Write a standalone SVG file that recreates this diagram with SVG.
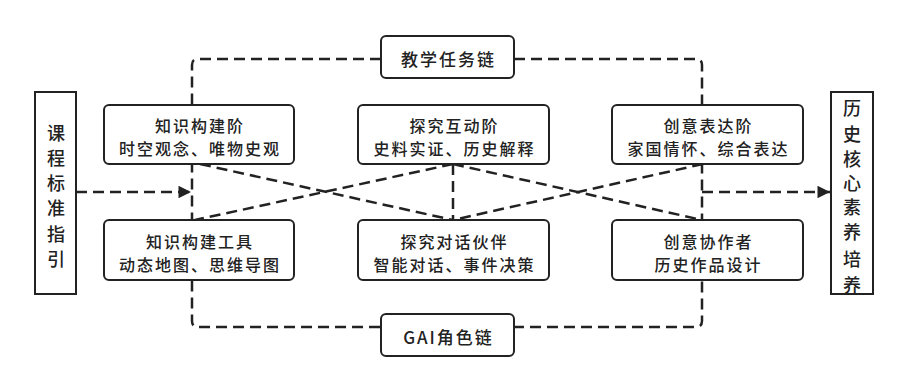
<svg xmlns="http://www.w3.org/2000/svg" width="907" height="392" viewBox="0 0 907 392">
<defs>
<marker id="arr" viewBox="0 0 10 10" refX="10" refY="5" markerWidth="7" markerHeight="5" markerUnits="strokeWidth" orient="auto">
<path d="M0,0 L10,5 L0,10 Z" fill="#222"/>
</marker>
<style>
.box{fill:#fff;stroke:#222;stroke-width:2}
.dash{fill:none;stroke:#222;stroke-width:2.5;stroke-dasharray:11 6}
.t{font-family:"Noto Sans CJK SC","Noto Sans",sans-serif;font-size:16px;font-weight:500;letter-spacing:2px;fill:#222;text-anchor:middle;dominant-baseline:central}
.tl{font-family:"Noto Sans CJK SC","Noto Sans",sans-serif;font-size:17px;font-weight:500;letter-spacing:2px;fill:#222;text-anchor:middle;dominant-baseline:central}
.tv{font-family:"Noto Sans CJK SC","Noto Sans",sans-serif;font-size:18px;font-weight:500;fill:#222;text-anchor:middle;dominant-baseline:central}
</style>
</defs>
<rect width="907" height="392" fill="#fff"/>
<g id="connectors">
<path class="dash" d="M381,59 H198 Q192,59 192,65 V321 Q192,327 198,327 H381"/>
<path class="dash" d="M514,59 H696 Q702,59 702,65 V321 Q702,327 696,327 H514"/>
<line class="dash" x1="200" y1="164" x2="453" y2="220"/>
<line class="dash" x1="453" y1="164" x2="195" y2="220"/>
<line class="dash" x1="453" y1="164" x2="702" y2="220"/>
<line class="dash" x1="703" y1="164" x2="453" y2="220"/>
<line class="dash" x1="453" y1="164" x2="453" y2="220"/>
<line class="dash" x1="76" y1="192" x2="191" y2="192" marker-end="url(#arr)"/>
<line class="dash" x1="702" y1="192" x2="830" y2="192" marker-end="url(#arr)"/>
</g>
<g id="left">
<rect class="box" x="35" y="92" width="41" height="202"/>
<text class="tv"><tspan x="56" y="132">课</tspan><tspan x="56" y="157">程</tspan><tspan x="56" y="182">标</tspan><tspan x="56" y="207">准</tspan><tspan x="56" y="233">指</tspan><tspan x="56" y="258">引</tspan></text>
</g>
<g id="right">
<rect class="box" x="831" y="92" width="42" height="202"/>
<text class="tv"><tspan x="852" y="107">历</tspan><tspan x="852" y="133">史</tspan><tspan x="852" y="158">核</tspan><tspan x="852" y="182">心</tspan><tspan x="852" y="206">素</tspan><tspan x="852" y="231">养</tspan><tspan x="852" y="258">培</tspan><tspan x="852" y="284">养</tspan></text>
</g>
<g id="task-chain">
<rect class="box" x="381" y="36" width="133" height="42" rx="5"/>
<text class="tl" x="448.5" y="58">教学任务链</text>
</g>
<g id="gai-chain">
<rect class="box" x="381" y="314" width="133" height="42" rx="5"/>
<text class="tl" x="448.5" y="336">GAI角色链</text>
</g>
<g id="n1">
<rect class="box" x="104" y="105" width="190" height="59" rx="5"/>
<text class="t" x="200" y="125">知识构建阶</text>
<text class="t" x="200" y="148">时空观念、唯物史观</text>
</g>
<g id="n2">
<rect class="box" x="358" y="105" width="191" height="59" rx="5"/>
<text class="t" x="454.5" y="125">探究互动阶</text>
<text class="t" x="454.5" y="148">史料实证、历史解释</text>
</g>
<g id="n3">
<rect class="box" x="612" y="105" width="191" height="59" rx="5"/>
<text class="t" x="708.5" y="125">创意表达阶</text>
<text class="t" x="708.5" y="148">家国情怀、综合表达</text>
</g>
<g id="n4">
<rect class="box" x="104" y="220" width="190" height="60" rx="5"/>
<text class="t" x="200" y="241">知识构建工具</text>
<text class="t" x="200" y="264">动态地图、思维导图</text>
</g>
<g id="n5">
<rect class="box" x="358" y="220" width="191" height="60" rx="5"/>
<text class="t" x="454.5" y="241">探究对话伙伴</text>
<text class="t" x="454.5" y="264">智能对话、事件决策</text>
</g>
<g id="n6">
<rect class="box" x="612" y="220" width="191" height="60" rx="5"/>
<text class="t" x="708.5" y="241">创意协作者</text>
<text class="t" x="708.5" y="264">历史作品设计</text>
</g>
</svg>
